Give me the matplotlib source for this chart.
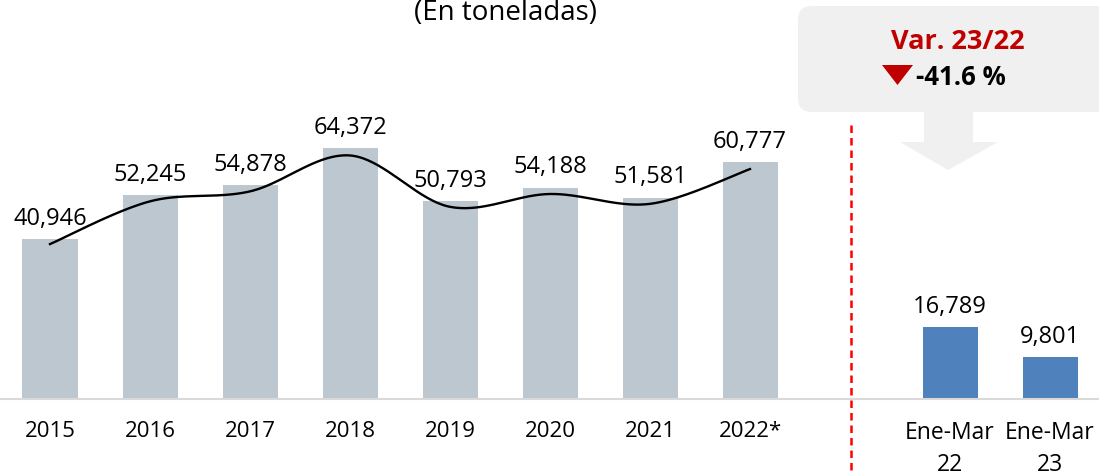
import numpy as np
import matplotlib
matplotlib.use("Agg")
import matplotlib.pyplot as plt
from matplotlib.patches import FancyBboxPatch, Polygon

plt.rcParams['font.family'] = ['Open Sans', 'DejaVu Sans']

years = ['2015', '2016', '2017', '2018', '2019', '2020', '2021', '2022*']
tons = [40946, 52245, 54878, 64372, 50793, 54188, 51581, 60777]

quarters = ['Ene-Mar\n22', 'Ene-Mar\n23']
q_tons = [16789, 9801]

var_label = 'Var. 23/22'
var_value = '-41.6 %'

gray = '#BDC7D0'
blue = '#4F81BD'
red = '#C00000'


def smooth(xs, ys, n=40):
    # bezier smoothing like the office "smoothed line"
    px = [xs[0]] + list(xs) + [xs[-1]]
    py = [ys[0]] + list(ys) + [ys[-1]]
    out_x, out_y = [], []
    t = np.linspace(0, 1, n)
    for i in range(1, len(px) - 2):
        p0 = np.array([px[i], py[i]], dtype=float)
        p3 = np.array([px[i + 1], py[i + 1]], dtype=float)
        p1 = p0 + (np.array([px[i + 1], py[i + 1]]) - np.array([px[i - 1], py[i - 1]])) / 6
        p2 = p3 - (np.array([px[i + 2], py[i + 2]]) - np.array([px[i], py[i]])) / 6
        for tt in t:
            b = ((1 - tt) ** 3) * p0 + 3 * ((1 - tt) ** 2) * tt * p1 + 3 * (1 - tt) * tt ** 2 * p2 + tt ** 3 * p3
            out_x.append(b[0])
            out_y.append(b[1])
    return out_x, out_y


fig = plt.figure(figsize=(10.99, 4.74), dpi=100)
bottom = 75 / 474

# left panel: annual values
ax1 = fig.add_axes([0, bottom, 851 / 1099, 1 - bottom])
x = np.arange(len(years))
ax1.bar(x, tons, width=0.55, color=gray)
ax1.set_xlim(-0.5, 8.01)
ax1.set_ylim(0, 102300)
for xi, v in zip(x, tons):
    ax1.annotate(f'{v:,}', (xi, v), xytext=(0, 6), textcoords='offset points',
                 ha='center', va='bottom', fontsize=17, color='#000000')
ax1.set_xticks(x)
ax1.set_xticklabels(years, fontsize=16)

# trend line on twin axis
ax1b = ax1.twinx()
ax1b.set_ylim(0, 102300 / 0.97)
sx, sy = smooth(x, tons)
ax1b.plot(sx, sy, color='black', lw=1.7)
ax1b.axis('off')

# right panel: first quarter
ax2 = fig.add_axes([851 / 1099, bottom, 248 / 1099, 1 - bottom])
xq = np.arange(len(quarters))
ax2.bar(xq, q_tons, width=0.55, color=blue)
ax2.set_xlim(-0.99, 1.49)
ax2.set_ylim(0, 93200)
for xi, v in zip(xq, q_tons):
    ax2.annotate(f'{v:,}', (xi, v), xytext=(0, 6), textcoords='offset points',
                 ha='center', va='bottom', fontsize=17, color='#000000')
ax2.set_xticks(xq)
ax2.set_xticklabels(quarters, fontsize=16.5, linespacing=1.45)

for ax in (ax1, ax2):
    for s in ['top', 'right', 'left']:
        ax.spines[s].set_visible(False)
    ax.spines['bottom'].set_color('#D9D9D9')
    ax.spines['bottom'].set_linewidth(1.5)
    ax.set_yticks([])
    ax.tick_params(axis='x', length=0, pad=16)
    ax.patch.set_alpha(0)

# overlay for title, separator and callout
ov = fig.add_axes([0, 0, 1, 1], zorder=5)
ov.set_xlim(0, 1099)
ov.set_ylim(474, 0)
ov.axis('off')
ov.patch.set_alpha(0)

ov.text(505, 20, '(En toneladas)', ha='center', va='baseline', fontsize=20)

ov.plot([851, 851], [125, 474], color='#FF0000', lw=1.8, ls=(0, (3, 2)))

box = FancyBboxPatch((798, 6), 330, 106, boxstyle='round,pad=0,rounding_size=14',
                     fc='#F0F0F0', ec='none')
ov.add_patch(box)
arrow = Polygon([[924, 111], [973, 111], [973, 142], [998, 142], [948, 170],
                 [900, 142], [924, 142]], closed=True, fc='#F0F0F0', ec='none')
ov.add_patch(arrow)
ov.text(958, 42, var_label, ha='center', va='center', fontsize=19.5,
        fontweight='bold', color=red)
tri = Polygon([[882, 65], [913, 65], [897.5, 85]], closed=True, fc=red, ec='none')
ov.add_patch(tri)
ov.text(916, 77, var_value, ha='left', va='center', fontsize=18.5,
        fontweight='bold', color='black')

fig.savefig('out.png', dpi=100)
